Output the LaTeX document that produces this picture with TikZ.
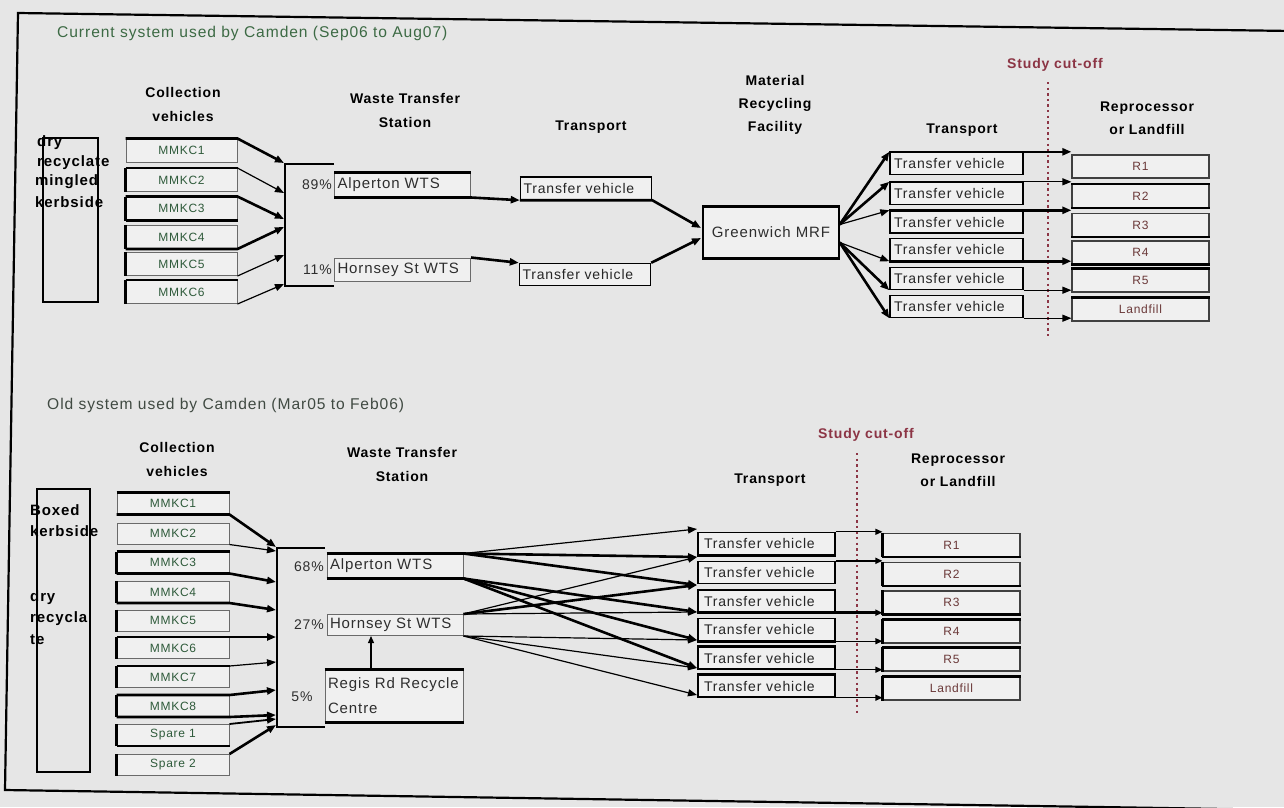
\documentclass[tikz,border=0pt]{standalone}
\usepackage{fontspec}
\setmainfont{Liberation Sans}[LetterSpace=6]
\usetikzlibrary{arrows.meta,calc}
\definecolor{bg}{HTML}{E6E6E6}
\definecolor{boxfill}{HTML}{F0F0F0}
\definecolor{boxln}{HTML}{6A6A6A}
\definecolor{txt}{HTML}{2E2E2E}
\definecolor{mgreen}{HTML}{2E5A3A}
\definecolor{tgreen}{HTML}{3C6A44}
\definecolor{tgreen2}{HTML}{404A42}
\definecolor{cutred}{HTML}{8C3545}
\definecolor{rtxt}{HTML}{6A3838}
\newcommand{\fsz}[1]{\fontsize{#1}{#1}\selectfont}
\begin{document}
\begin{tikzpicture}[x=1pt,y=-1pt,
  box/.style={draw=boxln, line width=1pt, fill=boxfill, inner sep=0pt, text=txt},
  mbox/.style={box, minimum width=111pt, minimum height=23pt, font=\fsz{12}, text=mgreen},
  mboxb/.style={box, minimum width=112pt, minimum height=21pt, font=\fsz{12}, text=mgreen},
  wbox/.style={box, text width=130pt, inner xsep=3pt, minimum height=24pt, align=left, font=\fsz{15}},
  tvbox/.style={box, draw=black, line width=1.4pt, minimum width=131pt, minimum height=22pt, font=\fsz{14}, text=black!85, text width=125pt, align=left, inner xsep=3pt},
  rbox/.style={box, draw=black!75, line width=1.2pt, minimum width=137pt, minimum height=23pt, font=\fsz{12}, text=rtxt},
  hdr/.style={font=\bfseries\fontsize{14}{24}\selectfont, align=center, inner sep=0pt},
  hdrc/.style={font=\bfseries\fontsize{14}{23}\selectfont, align=center, inner sep=0pt},
  src/.style={draw=black, line width=1.8pt, inner sep=0pt},
  srct/.style={font=\bfseries\fsz{15}, anchor=west, inner sep=0pt},
  pct/.style={font=\fsz{14}, text=txt, inner sep=0pt},
  cut/.style={font=\bfseries\fsz{14}, text=cutred, inner sep=0pt},
  dotln/.style={cutred, line width=2.2pt, dash pattern=on 2.4pt off 3.2pt},
  thk/.style={line width=2.6pt, black},
  thn/.style={line width=1.2pt, black},
  med/.style={line width=1.8pt, black},
  arr/.style={-{Triangle[length=9pt,width=7pt]}},
  sarr/.style={-{Triangle[length=7pt,width=6pt]}},
  ttl/.style={font=\fsz{15.6}, anchor=west, inner sep=0pt}
]
\useasboundingbox (0,0) rectangle (1284,807);
\clip (0,0) rectangle (1284,807);
\fill[bg] (0,0) rectangle (1284,807);

% frame
\coordinate (fTL) at (18,13); \coordinate (fTR) at (1292,31);
\coordinate (fBL) at (5,790); \coordinate (fBR) at (1292,810);
\draw[line width=2.2pt] (fTR) -- (fTL) -- (fBL) -- (fBR);

% ================= TOP SECTION =================
\node[ttl, text=tgreen] (title1) at (57,33) {Current system used by Camden (Sep06 to Aug07)};
\node[hdr] (hcv1) at (183,104.5) {Collection\\vehicles};
\node[hdr] (hwts1) at (405,110) {Waste Transfer\\Station};
\node[hdr] (htr1) at (591,127) {Transport};
\node[hdrc] (hmrf) at (775,105) {Material\\Recycling\\Facility};
\node[hdr] (htr2) at (962,130) {Transport};
\node[hdrc] (hrp1) at (1147,118.5) {Reprocessor\\or Landfill};
\node[cut] (cut1) at (1055,65) {Study cut-off};
\coordinate (d1a) at (1048,82); \coordinate (d1b) at (1048,337);
\draw[dotln] (d1a) -- (d1b);

% source box
\node[src, minimum width=55pt, minimum height=164pt] (src1) at (70.5,220) {};
\node[srct] (s1a) at (37,143) {dry};
\node[srct] (s1b) at (37,163) {recyclate};
\node[srct] (s1d) at (35,182) {mingled};
\node[srct] (s1e) at (35,202) {kerbside};

% collection vehicles
\foreach \i/\y in {1/150.5,2/180,3/208.5,4/237,5/264,6/292}
  \node[mbox] (ma\i) at (181.5,\y) {MMKC\i};
\foreach \i in {2,...,6} \draw[thk] (ma\i.north west) -- (ma\i.south west);

% bracket
\coordinate (brA1) at (285,164); \coordinate (brA2) at (285,286);
\coordinate (brA1e) at (334,164); \coordinate (brA2e) at (334,286);
\draw[line width=2.2pt] (brA1e) -- (brA1) -- (brA2) -- (brA2e);
\coordinate (pa1) at (284,163); \coordinate (pa2) at (284,193);
\coordinate (pa3) at (284,219); \coordinate (pa4) at (284,227);
\coordinate (pa5) at (284,255); \coordinate (pa6) at (284,284);

\draw[thk,arr] (ma1.north west) -- (ma1.north east) -- (pa1);
\draw[thk] (ma2.north west) -- (ma2.north east);
\draw[thn,arr] (ma2.north east) -- (pa2);
\draw[thk,arr] (ma3.north west) -- (ma3.north east) -- (pa3);
\draw[thk] (ma3.south west) -- (ma3.south east);
\draw[thk,arr] (ma4.south west) -- (ma4.south east) -- (pa4);
\draw[thn,arr] (ma5.south east) -- (pa5);
\draw[thk] (ma6.north west) -- (ma6.north east);
\draw[thn,arr] (ma6.south east) -- (pa6);

% WTS
\node[pct, anchor=east] (p89) at (332,185) {89\%};
\node[wbox] (alp1) at (402.5,185) {Alperton WTS};
\node[pct, anchor=east] (p11) at (332,270) {11\%};
\node[wbox, minimum height=23pt] (hor1) at (402.5,269.5) {Hornsey St WTS};
\draw[thk] (alp1.north west) -- (alp1.north east);

% transport to MRF
\node[tvbox] (tva) at (586,188.5) {Transfer vehicle};
\node[tvbox] (tvb) at (585,274.5) {Transfer vehicle};
\draw[thk,arr] (alp1.south west) -- (alp1.south east) -- (tva.south west);
\draw[thk,arr] (hor1.north east) -- (tvb.north west);
\draw[thk] (tva.north west) -- (tva.north east);

\node[box, draw=black, line width=1.4pt, minimum width=136pt, minimum height=51pt, font=\fsz{15}] (mrf) at (771,232.5) {Greenwich MRF};
\draw[thk] (mrf.north west) -- (mrf.north east);
\draw[thk] (mrf.south west) -- (mrf.south east);
\coordinate (mi1) at (701,228); \coordinate (mi2) at (701,238);
\draw[thk,arr] (tva.south west) -- (tva.south east) -- (mi1);
\draw[thk,arr] (tvb.north east) -- (mi2);

% right transport and reprocessors
\foreach \i/\y in {1/163.5,2/193.5,3/222,4/249.5,5/278.5,6/306.5}
  \node[tvbox, minimum width=133pt] (tr\i) at (956.5,\y) {Transfer vehicle};
\foreach \i/\y/\t in {1/166.5/R1,2/196/R2,3/225/R3,4/252.5/R4,5/280.5/R5,6/309.5/Landfill}
  \node[rbox] (rr\i) at (1140.5,\y) {\t};

\coordinate (mo1) at ($(mrf.east)+(0,-8)$);
\coordinate (mo2) at ($(mrf.east)+(0,10)$);
\draw[thk,arr] (mo1) -- (tr1.north west);
\draw[thk,arr] (mo1) -- (tr2.north west);
\draw[thn,arr] (mo1) -- (tr3.north west);
\draw[thn,arr] (mo2) -- (tr4.south west);
\draw[thk,arr] (mo2) -- (tr5.south west);
\draw[thk,arr] (mo2) -- (tr6.south west);

\draw[thk,arr] (tr1.north west) -- (tr1.north east) -- (tr1.north east -| rr1.west);
\draw[thk] (tr2.north west) -- (tr2.north east);
\draw[thn,arr] (tr2.north east) -- (tr2.north east -| rr2.west);
\draw[thk,arr] (tr3.north west) -- (tr3.north east) -- (tr3.north east -| rr3.west);
\draw[thk,arr] (tr4.south west) -- (tr4.south east) -- (tr4.south east -| rr4.west);
\draw[thn,arr] (tr5.south east) -- (tr5.south east -| rr5.west);
\draw[thn,arr] (tr6.south east) -- (tr6.south east -| rr6.west);
\draw[thk] (rr2.north west) -- (rr2.north east);
\draw[thk] (rr2.south west) -- (rr2.south east);
\draw[thk] (rr3.south west) -- (rr3.south east);
\draw[thk] (rr4.south west) -- (rr4.south east);
\draw[thk] (rr5.north west) -- (rr5.north east);
\draw[thk] (rr6.north west) -- (rr6.north east);

% ================= BOTTOM SECTION =================
\node[ttl, text=tgreen2] (title2) at (47,405) {Old system used by Camden (Mar05 to Feb06)};
\node[hdr] (hcv2) at (177,459.5) {Collection\\vehicles};
\node[hdr] (hwts2) at (402,464) {Waste Transfer\\Station};
\node[hdr] (htr3) at (770,480) {Transport};
\node[cut] (cut2) at (866,435) {Study cut-off};
\node[hdrc] (hrp2) at (958,470) {Reprocessor\\or Landfill};
\coordinate (d2a) at (857,453); \coordinate (d2b) at (857,715);
\draw[dotln] (d2a) -- (d2b);

\node[src, minimum width=53pt, minimum height=283pt] (src2) at (63.5,630.5) {};
\node[srct] (s2a) at (30,510) {Boxed};
\node[srct] (s2b) at (30,531) {kerbside};
\node[srct] (s2c) at (30,598) {dry};
\node[srct] (s2d) at (30,619) {recycla};
\node[srct] (s2e) at (30,640) {te};

\foreach \i/\y/\t in {1/503.5/MMKC1,2/533.5/MMKC2,3/562.5/MMKC3,4/592/MMKC4,5/620.5/MMKC5,6/648/MMKC6,7/677/MMKC7,8/706/MMKC8,9/735/Spare 1,10/765/Spare 2}
  \node[mboxb] (mb\i) at (173,\y) {\t};
\foreach \i in {3,...,10} \draw[thk] (mb\i.north west) -- (mb\i.south west);

\coordinate (brB1) at (277,548); \coordinate (brB2) at (277,727);
\coordinate (brB1e) at (325,548); \coordinate (brB2e) at (325,727);
\draw[line width=2.2pt] (brB1e) -- (brB1) -- (brB2) -- (brB2e);
\coordinate (pb1) at (276,547); \coordinate (pb2) at (276,551);
\coordinate (pb3) at (276,582); \coordinate (pb4) at (276,610);
\coordinate (pb5) at (276,637); \coordinate (pb6) at (276,662);
\coordinate (pb7) at (276,690); \coordinate (pb8) at (276,715);
\coordinate (pb9) at (276,719); \coordinate (pb10) at (276,725);

\draw[thk] (mb1.north west) -- (mb1.north east);
\draw[thk,arr] (mb1.south west) -- (mb1.south east) -- (pb1);
\draw[thn,arr] (mb2.south east) -- (pb2);
\draw[thk] (mb3.north west) -- (mb3.north east);
\draw[thk,arr] (mb3.south west) -- (mb3.south east) -- (pb3);
\draw[thk,arr] (mb4.south west) -- (mb4.south east) -- (pb4);
\draw[thk,arr] (mb6.north west) -- (mb6.north east) -- (pb5);
\draw[thk] (mb7.north west) -- (mb7.north east);
\draw[thn,arr] (mb7.north east) -- (pb6);
\draw[thk,arr] (mb8.north west) -- (mb8.north east) -- (pb7);
\draw[thk,arr] (mb8.south west) -- (mb8.south east) -- (pb8);
\draw[med,arr] (mb9.north east) -- (pb9);
\draw[thk] (mb9.south west) -- (mb9.south east);
\draw[thk,arr] (mb10.north east) -- (pb10);

\node[pct, anchor=east] (p68) at (324,567) {68\%};
\node[wbox] (alp2) at (395,566) {Alperton WTS};
\node[pct, anchor=east] (p27) at (324,625) {27\%};
\node[wbox, minimum height=21pt] (hor2) at (395,625) {Hornsey St WTS};
\node[pct] (p5) at (302,697) {5\%};
\node[wbox, minimum height=52pt, text width=132pt, font=\fontsize{15}{25}\selectfont] (reg) at (394,696) {Regis Rd Recycle\\Centre};
\draw[thk] (alp2.north west) -- (alp2.north east);
\draw[thk] (alp2.south west) -- (alp2.south east);
\draw[thk] (reg.north west) -- (reg.north east);
\draw[thk] (reg.south west) -- (reg.south east);
\draw[thn,sarr] ($(reg.north)+(-23,0)$) -- ($(hor2.south)+(-24,0)$);

\foreach \i/\y in {1/543.5,2/572.5,3/601,4/629.5,5/658,6/686}
  \node[tvbox, minimum width=137pt] (tb\i) at (766.5,\y) {Transfer vehicle};
\foreach \i/\y/\t in {1/545/R1,2/574/R2,3/602.5/R3,4/631.5/R4,5/659.5/R5,6/688.5/Landfill}
  \node[rbox] (rb\i) at (951.5,\y) {\t};

\coordinate (q0) at (697,529); \coordinate (q1) at (697,557);
\coordinate (q2) at (697,585); \coordinate (q3) at (697,612);
\coordinate (q4) at (697,640); \coordinate (q5) at (697,668);
\coordinate (q6) at (697,695);

\draw[thn,arr] (alp2.north east) -- (q0);
\draw[thk,arr] (alp2.north east) -- (q1);
\draw[thk,arr] (alp2.north east) -- (q2);
\draw[thk,arr] (alp2.south east) -- (q3);
\draw[thk,arr] (alp2.south east) -- (q4);
\draw[thk,arr] (alp2.south east) -- (q5);
\draw[thn,arr] (hor2.north east) -- (q1);
\draw[thk,arr] (hor2.north east) -- (q2);
\draw[thn,arr] (hor2.north east) -- (q3);
\draw[thn,arr] (hor2.south east) -- (q4);
\draw[thn,arr] (hor2.south east) -- (q5);
\draw[thn,arr] (hor2.south east) -- (q6);

\draw[thk] (tb1.south west) -- (tb1.south east);
\draw[thk] (tb3.south west) -- (tb3.south east);
\draw[thk] (tb4.south west) -- (tb4.south east);
\draw[thk] (tb5.north west) -- (tb5.north east);
\draw[thk] (tb6.north west) -- (tb6.north east);

\draw[thn,sarr] (tb1.north east) -- (tb1.north east -| rb1.west);
\draw[thk,sarr] (tb2.north east) -- (tb2.north east -| rb2.west);
\draw[thk,sarr] (tb3.south east) -- (tb3.south east -| rb3.west);
\draw[thn,sarr] (tb4.south east) -- (tb4.south east -| rb4.west);
\draw[thn,sarr] (tb5.south east) -- (tb5.south east -| rb5.west);
\draw[thn,sarr] (tb6.south east) -- (tb6.south east -| rb6.west);
\foreach \i in {1,...,6} \draw[thk] (rb\i.north west) -- (rb\i.south west);
\draw[thk] (rb1.south west) -- (rb1.south east);
\draw[thk] (rb2.south west) -- (rb2.south east);
\draw[thk] (rb3.south west) -- (rb3.south east);
\draw[thk] (rb4.north west) -- (rb4.north east);
\draw[thk] (rb5.north west) -- (rb5.north east);
\draw[thk] (rb6.north west) -- (rb6.north east);
\end{tikzpicture}
\end{document}
